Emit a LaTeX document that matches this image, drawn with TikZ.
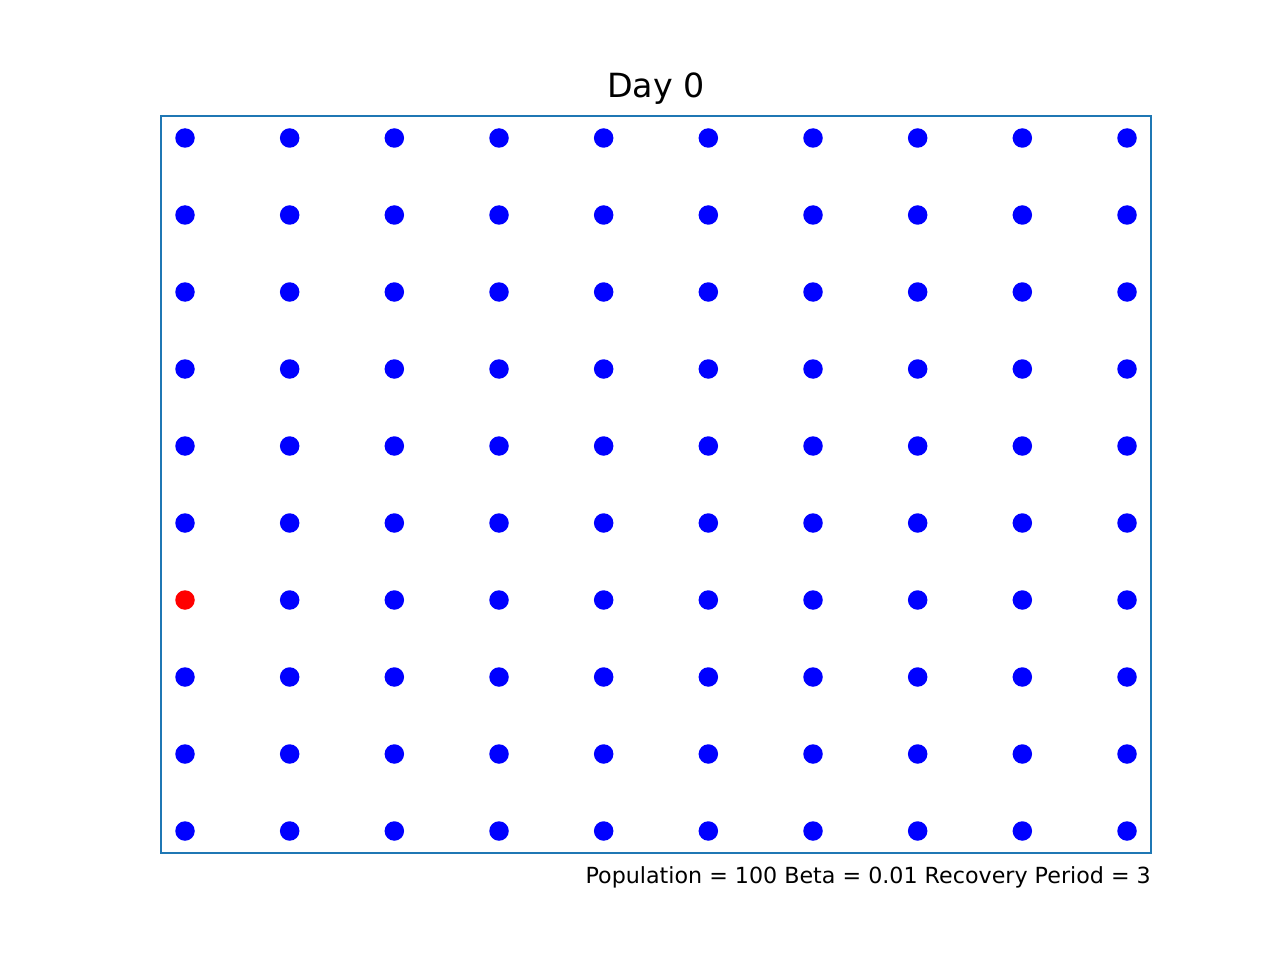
\documentclass[tikz,border=0pt]{standalone}
\usepackage{fontspec}
\setmainfont{DejaVu Sans}
\definecolor{spine}{HTML}{1F77B4}
\tikzset{
  agent/.style={circle, fill=blue, inner sep=0pt, minimum size=19.5pt},
  infected/.style={agent, fill=red},
  frame/.style={draw=spine, line width=1.6pt},
}
\begin{document}
\begin{tikzpicture}[x=1pt,y=-1pt]
\useasboundingbox (0,0) rectangle (1280,960);
\draw[frame] (161,116) rectangle (1151,853);
\foreach \i in {0,...,9}{
  \foreach \j in {0,...,9}{
    \pgfmathsetmacro{\px}{185+104.667*\i}
    \pgfmathsetmacro{\py}{138+77*\j}
    \ifnum\i=0 \ifnum\j=6
      \node[infected] (d\i\j) at (\px,\py) {};
    \else
      \node[agent] (d\i\j) at (\px,\py) {};
    \fi\else
      \node[agent] (d\i\j) at (\px,\py) {};
    \fi
  }
}
\node[anchor=base, inner sep=0pt, font=\fontsize{33.3}{40}\selectfont] (title) at (656,98) {Day 0};
\node[anchor=base east, inner sep=0pt, font=\fontsize{22.2}{27}\selectfont] (caption) at (1151,883) {Population = 100 Beta = 0.01 Recovery Period = 3};
\end{tikzpicture}
\end{document}
